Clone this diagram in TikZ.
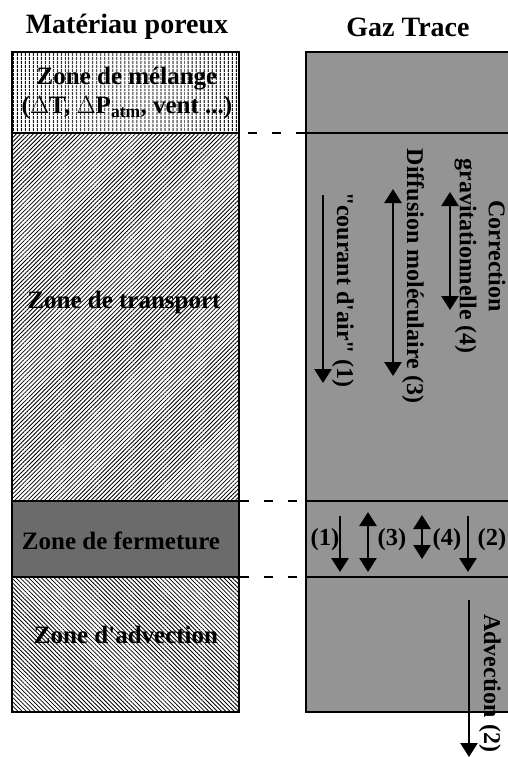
\documentclass[tikz,border=0pt]{standalone}
\usepackage{fontspec}
\setmainfont[Ligatures=TeXOff]{Liberation Serif}
\usetikzlibrary{patterns,patterns.meta,arrows.meta}
\begin{document}
\begin{tikzpicture}[x=1pt,y=-1pt,
  title/.style={font=\fontsize{28}{30}\selectfont\bfseries, inner sep=0pt},
  zonetxt/.style={font=\fontsize{25}{29}\selectfont\bfseries, inner sep=0pt, align=center},
  rottxt/.style={font=\fontsize{24}{29}\selectfont\bfseries, inner sep=0pt, align=center, rotate=-90},
  lbl/.style={font=\fontsize{24.5}{28}\selectfont\bfseries, inner sep=0pt},
  border/.style={draw=black, line width=2pt},
  sep/.style={line width=2pt},
  guide/.style={line width=1.6pt, dash pattern=on 9pt off 15pt},
  flow/.style={line width=2.6pt, -{Triangle[width=17pt,length=14pt]}},
  flow2/.style={line width=2.6pt, {Triangle[width=17pt,length=14pt]}-{Triangle[width=17pt,length=14pt]}},
  melpat/.style={pattern={Lines[angle=90,distance=4pt,line width=1pt]}},
  trapat/.style={pattern={Lines[angle=45,distance=3pt,line width=0.8pt]}},
  ferpat/.style={fill=black!58},
  advpat/.style={pattern={Lines[angle=-45,distance=3pt,line width=0.8pt]}},
  gazpat/.style={fill=black!42}
]
\useasboundingbox[fill=white] (0,0) rectangle (507,757);

% titles
\node[title] (t1) at (127,27) {Matériau poreux};
\node[title] (t2) at (408,27) {Gaz Trace};

% left column zones
\path[melpat] (12,52) rectangle (239,133);
\path[trapat] (12,133) rectangle (239,501);
\path[ferpat] (12,501) rectangle (239,577);
\path[advpat] (12,577) rectangle (239,712);
\draw[sep] (12,133) -- (239,133);
\draw[sep] (12,501) -- (239,501);
\draw[sep] (12,577) -- (239,577);
\draw[border] (12,52) rectangle (239,712);

% right column
\path[gazpat] (306,52) rectangle (515,712);
\draw[sep] (306,133) -- (515,133);
\draw[sep] (306,501) -- (515,501);
\draw[sep] (306,577) -- (515,577);
\draw[border] (306,52) rectangle (515,712);

% dashed guides
\coordinate (g1a) at (240,133); \coordinate (g1b) at (306,133);
\coordinate (g2a) at (240,501); \coordinate (g2b) at (306,501);
\coordinate (g3a) at (240,577); \coordinate (g3b) at (306,577);
\draw[guide, dash phase=-8pt] (g1a) -- (g1b);
\draw[guide] (g2a) -- (g2b);
\draw[guide] (g3a) -- (g3b);

% zone labels
\node[zonetxt] (zm) at (127,93) {Zone de mélange\\(\(\Delta\)T, \(\Delta\)P\textsubscript{atm}, vent ...)};
\node[zonetxt] (zt) at (124,302) {Zone de transport};
\node[zonetxt] (zf) at (121,541) {Zone de fermeture};
\node[zonetxt] (za) at (126,635) {Zone d'advection};

% long arrows in transport zone
\coordinate (c1a) at (323,195); \coordinate (c1b) at (323,383);
\coordinate (c3a) at (393,189); \coordinate (c3b) at (393,376);
\coordinate (c4a) at (450,192); \coordinate (c4b) at (450,310);
\draw[flow] (c1a) -- (c1b);
\draw[flow2] (c3a) -- (c3b);
\draw[flow2] (c4a) -- (c4b);
\node[rottxt] (r1) at (343,290) {"courant d'air" (1)};
\node[rottxt] (r3) at (413,276) {Diffusion moléculaire (3)};
\node[rottxt] (r4) at (480,256) {Correction\\gravitationnelle (4)};

% fermeture zone arrows
\coordinate (f1a) at (340,516); \coordinate (f1b) at (340,572);
\coordinate (f3a) at (368,512); \coordinate (f3b) at (368,572);
\coordinate (f4a) at (422,515); \coordinate (f4b) at (422,559);
\coordinate (f2a) at (468,516); \coordinate (f2b) at (468,572);
\draw[flow] (f1a) -- (f1b);
\draw[flow2] (f3a) -- (f3b);
\draw[flow2] (f4a) -- (f4b);
\draw[flow] (f2a) -- (f2b);
\node[lbl] (l1) at (325,540) {(1)};
\node[lbl] (l3) at (392,540) {(3)};
\node[lbl] (l4) at (447,540) {(4)};
\node[lbl] (l2) at (492,540) {(2)};

% advection arrow
\coordinate (a1) at (469,600); \coordinate (a2) at (469,757);
\draw[flow] (a1) -- (a2);
\node[rottxt] (ra) at (490,683) {Advection (2)};
\end{tikzpicture}
\end{document}
